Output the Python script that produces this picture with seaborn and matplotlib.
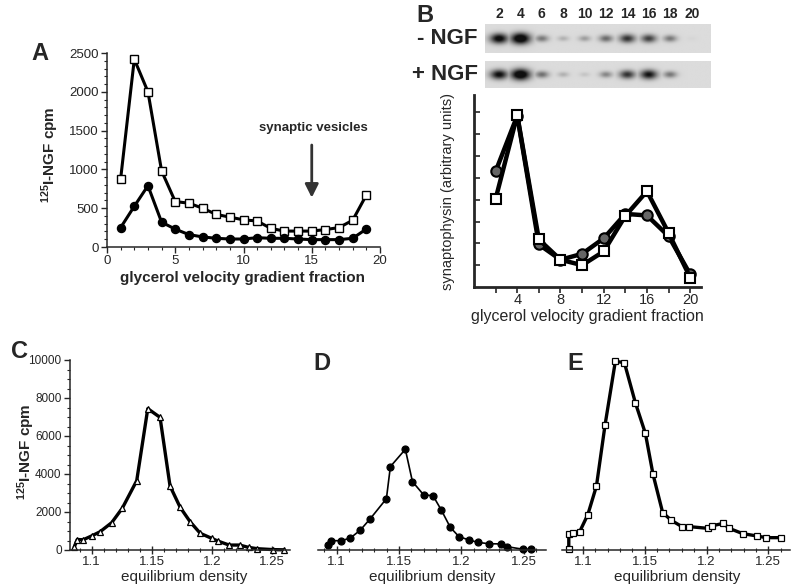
import numpy as np
import matplotlib
matplotlib.use('Agg')
import matplotlib.pyplot as plt
from matplotlib.ticker import MultipleLocator
import seaborn as sns

# panel A: 125I-NGF across the glycerol velocity gradient
frac_a = list(range(1, 20))
cpm_open = [880, 2420, 2000, 980, 585, 565, 500, 420, 385, 350, 335, 240, 205, 205, 205, 225, 250, 345, 670]
cpm_filled = [250, 525, 790, 320, 230, 160, 130, 112, 103, 103, 120, 112, 112, 103, 95, 95, 95, 112, 232]

# panel B: synaptophysin blot + quantification
frac_b = [2, 4, 6, 8, 10, 12, 14, 16, 18, 20]
syn_circle = [5.30, 7.85, 1.95, 1.25, 1.52, 2.23, 3.35, 3.28, 2.33, 0.58]
syn_square = [4.04, 7.88, 2.18, 1.25, 1.00, 1.63, 3.26, 4.39, 2.48, 0.43]
band_minus = [0.80, 0.95, 0.35, 0.15, 0.22, 0.40, 0.60, 0.55, 0.35, 0.02]
band_plus = [0.75, 0.95, 0.38, 0.15, 0.08, 0.30, 0.60, 0.72, 0.35, 0.0]

# panels C, D, E: equilibrium density gradients
dens_c = [1.0855, 1.088, 1.093, 1.100, 1.107, 1.1167, 1.1255, 1.1375, 1.1467, 1.1569, 1.1652,
          1.1736, 1.1819, 1.1903, 1.200, 1.205, 1.2144, 1.223, 1.2305, 1.2375, 1.251, 1.260]
cpm_c = [150, 550, 540, 740, 960, 1440, 2200, 3650, 7440, 6980, 3370,
         2250, 1490, 880, 610, 470, 260, 260, 140, 70, 20, 10]

dens_d = [1.093, 1.0957, 1.1038, 1.111, 1.119, 1.127, 1.1399, 1.1431, 1.1551, 1.1608, 1.1698,
          1.1773, 1.184, 1.1912, 1.1982, 1.2062, 1.2134, 1.2222, 1.2322, 1.2367, 1.2495, 1.256]
cpm_d = [260, 490, 490, 630, 1050, 1650, 2700, 4390, 5300, 3600, 2900,
         2860, 2100, 1190, 700, 530, 400, 330, 320, 175, 40, 40]

dens_e = [1.0885, 1.0885, 1.0918, 1.0972, 1.1039, 1.1109, 1.1179, 1.1262, 1.1335, 1.1424, 1.1505, 1.1567,
          1.1645, 1.1715, 1.1801, 1.186, 1.2011, 1.2048, 1.2137, 1.2183, 1.2294, 1.2407, 1.2482, 1.2601]
cpm_e = [35, 825, 895, 950, 1860, 3370, 6600, 9930, 9860, 7750, 6140, 3980,
         1970, 1560, 1230, 1230, 1140, 1280, 1400, 1140, 860, 740, 650, 650]

sns.set_theme(style='ticks')
plt.rcParams['font.family'] = ['Liberation Sans', 'DejaVu Sans']
plt.rcParams['axes.linewidth'] = 1.1

W, H = 792, 585
fig = plt.figure(figsize=(W / 100, H / 100), dpi=100)


def box(l, t, r, b):
    return [l / W, 1 - b / H, (r - l) / W, (b - t) / H]


def ftext(x, y, s, **kw):
    kw.setdefault('ha', 'center')
    kw.setdefault('va', 'center')
    fig.text(x / W, 1 - y / H, s, **kw)


def trace(ax, x, y, marker, ms, face, lw, mew):
    sns.lineplot(x=x, y=y, ax=ax, color='black', linewidth=lw, marker=marker,
                 markersize=ms, markerfacecolor=face, markeredgecolor='black',
                 markeredgewidth=mew, estimator=None, sort=False, errorbar=None)


# ---- A ----
ax_a = fig.add_axes(box(107, 53, 380, 247))
trace(ax_a, frac_a, cpm_open, 's', 5.5, 'white', 2.2, 1.0)
trace(ax_a, frac_a, cpm_filled, 'o', 5.8, 'black', 2.2, 1.0)
ax_a.set_xlim(0, 20)
ax_a.set_ylim(0, 2500)
ax_a.xaxis.set_major_locator(MultipleLocator(5))
ax_a.xaxis.set_minor_locator(MultipleLocator(1))
ax_a.yaxis.set_major_locator(MultipleLocator(500))
ax_a.yaxis.set_minor_locator(MultipleLocator(100))
ax_a.tick_params(which='major', length=4, width=1, labelsize=9.5, pad=2)
ax_a.tick_params(which='minor', length=2, width=0.8)
ax_a.annotate('', xy=(15, 600), xytext=(15, 1350),
              arrowprops=dict(arrowstyle='-|>', lw=2, color='#333333', mutation_scale=20))
ax_a.text(15.1, 1535, 'synaptic vesicles', ha='center', va='center', fontsize=9.5, fontweight='bold')
sns.despine(ax=ax_a)
ftext(243, 278, 'glycerol velocity gradient fraction', fontsize=11, fontweight='bold')
ftext(50, 155, r'$\mathregular{^{125}}$I-NGF cpm', rotation=90, fontsize=11, fontweight='bold')
ftext(40, 54, 'A', fontsize=17, fontweight='bold')

# ---- B blot ----
lane_px = 10.7  # pixels per fraction unit in the strip
for (t, b), bands, tag in [((24, 53), band_minus, '- NGF'), ((61, 88), band_plus, '+ NGF')]:
    ax_g = fig.add_axes(box(485, t, 711, b))
    gx = np.linspace(0.7, 21.8, 450)
    gy = np.linspace(0, b - t, 60)
    X, Y = np.meshgrid(gx, gy)
    dark = np.zeros(X.shape)
    for lane, v in zip(frac_b, bands):
        sx = (3.5 + 3.5 * v) / lane_px
        sy = 1.5 + 2.6 * v
        g = np.exp(-0.5 * ((X - lane) / sx) ** 2 - 0.5 * ((Y - (b - t) / 2) / sy) ** 2)
        dark = np.maximum(dark, np.minimum(1, 1.4 * v * g))
    img = 0.86 * (1 - dark) + 0.06 * dark
    ax_g.imshow(img, cmap='gray', vmin=0, vmax=1, aspect='auto',
                extent=(0.7, 21.8, 0, b - t), origin='lower', interpolation='bilinear')
    ax_g.set_xlim(0.7, 21.8)
    ax_g.set_ylim(0, b - t)
    ax_g.set_yticks([])
    if tag == '- NGF':
        ax_g.xaxis.tick_top()
        ax_g.set_xticks(frac_b)
        ax_g.set_xticklabels([str(f) for f in frac_b], fontsize=10, fontweight='bold')
        ax_g.tick_params(axis='x', length=0, pad=2.5)
    else:
        ax_g.set_xticks([])
    for s in ax_g.spines.values():
        s.set_visible(False)
    ftext(478, (t + b) / 2, tag, ha='right', fontsize=16, fontweight='bold')
ftext(425, 15, 'B', fontsize=17, fontweight='bold')

# ---- B plot ----
ax_b = fig.add_axes(box(474, 95, 701, 287))
trace(ax_b, frac_b, syn_circle, 'o', 7.5, '#666666', 3.2, 1.5)
trace(ax_b, frac_b, syn_square, 's', 6.8, 'white', 3.2, 1.5)
ax_b.set_xlim(0, 21)
ax_b.set_ylim(0, 8.8)
ax_b.set_xticks(frac_b)
ax_b.set_xticklabels([str(f) if f % 4 == 0 else '' for f in frac_b], fontsize=10.5)
ax_b.set_yticks(range(1, 9))
ax_b.set_yticklabels([])
ax_b.tick_params(axis='x', length=4, width=1.2, pad=0.5)
ax_b.tick_params(axis='y', direction='in', length=4, width=1.2)
for s in ['left', 'bottom']:
    ax_b.spines[s].set_linewidth(2)
sns.despine(ax=ax_b)
ftext(587, 316, 'glycerol velocity gradient fraction', fontsize=11.5)
ftext(448, 192, 'synaptophysin (arbitrary units)', rotation=90, fontsize=10.5)

# ---- C, D, E ----
panels = [
    ('C', box(70, 360, 290, 550), (1.082, 1.265), dens_c, cpm_c, '^', 4.5, 'white', 2.4, 184, 19),
    ('D', box(318, 360, 546, 550), (1.085, 1.268), dens_d, cpm_d, 'o', 5, 'black', 1.2, 432, 322),
    ('E', box(562, 360, 790, 550), (1.083, 1.2676), dens_e, cpm_e, 's', 4.8, 'white', 2.4, 677, 575),
]
for letter, pos, xl, xs, ys, mk, ms, face, lw, lab_x, let_x in panels:
    ax = fig.add_axes(pos)
    trace(ax, xs, ys, mk, ms, face, lw, 0.9)
    for ln in ax.lines:
        ln.set_clip_on(False)
    ax.set_xlim(*xl)
    ax.set_ylim(0, 10000)
    ax.set_xticks([1.1, 1.15, 1.2, 1.25])
    ax.set_xticklabels(['1.1', '1.15', '1.2', '1.25'], fontsize=9.5)
    ax.xaxis.set_minor_locator(MultipleLocator(0.01))
    ax.tick_params(axis='x', which='major', direction='inout', length=6, width=1, pad=1)
    ax.tick_params(axis='x', which='minor', direction='inout', length=3, width=0.8)
    if letter == 'C':
        ax.yaxis.set_major_locator(MultipleLocator(2000))
        ax.yaxis.set_minor_locator(MultipleLocator(500))
        ax.tick_params(axis='y', which='major', length=4, width=1, labelsize=8.5, pad=2)
        ax.tick_params(axis='y', which='minor', length=2, width=0.8)
        sns.despine(ax=ax)
        ftext(26, 452, r'$\mathregular{^{125}}$I-NGF cpm', rotation=90, fontsize=11, fontweight='bold')
        ftext(let_x, 352, letter, fontsize=17, fontweight='bold')
    else:
        ax.set_yticks([])
        sns.despine(ax=ax, left=True)
        ftext(let_x, 364, letter, fontsize=17, fontweight='bold')
    ftext(lab_x, 577, 'equilibrium density', fontsize=11)

fig.savefig('out.png', dpi=100)
